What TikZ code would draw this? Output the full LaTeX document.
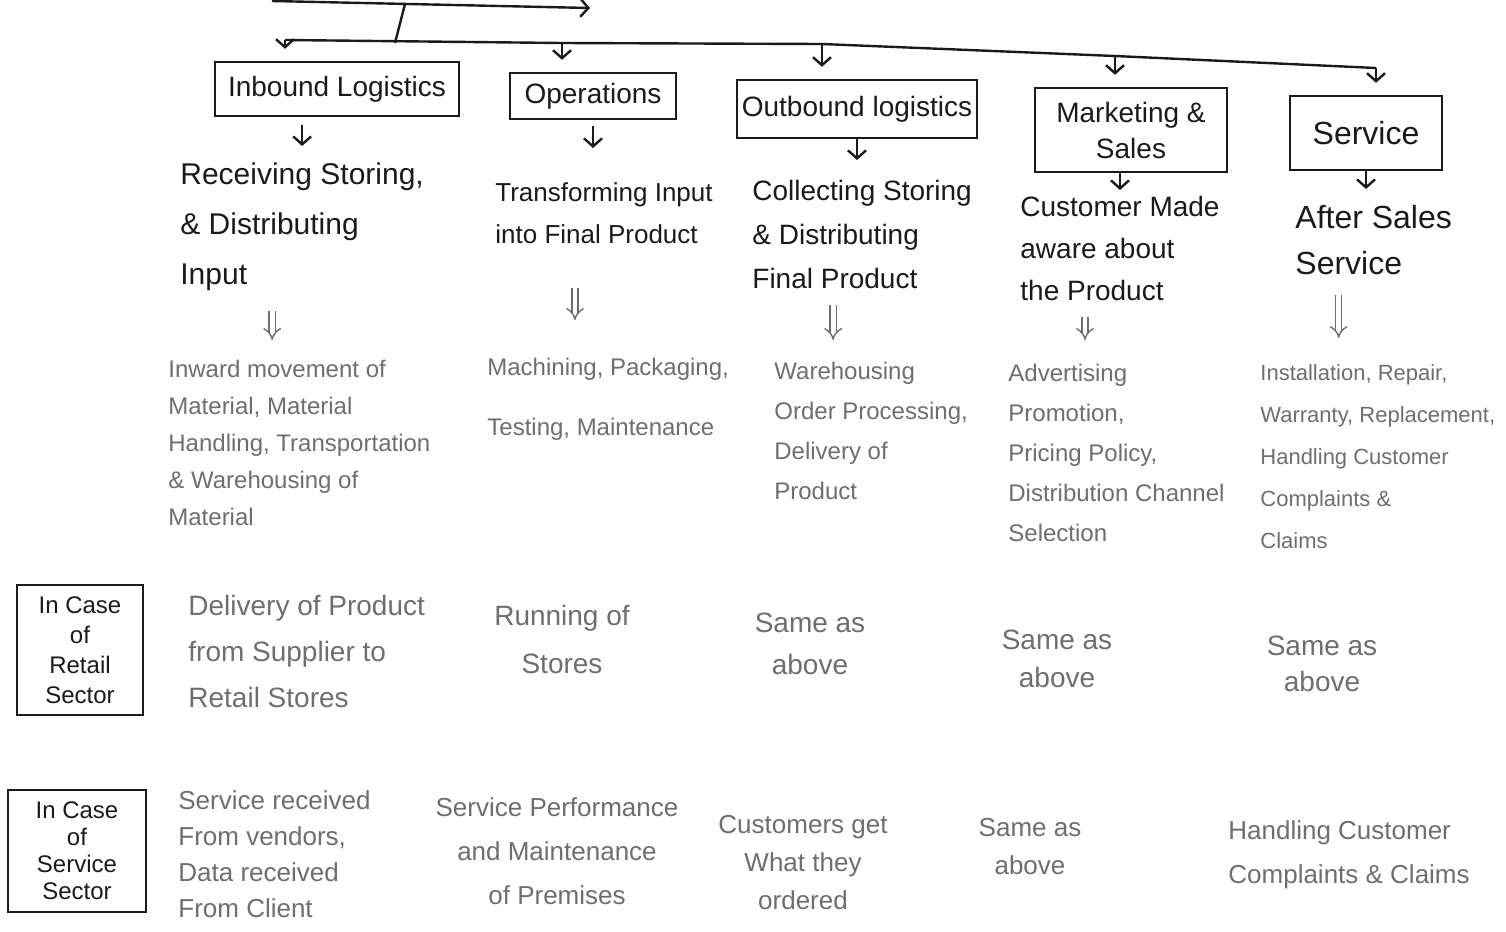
\documentclass[tikz,border=0pt]{standalone}
\usepackage{fontspec}
\setmainfont{Liberation Sans}
\usetikzlibrary{arrows.meta}
\definecolor{ink}{HTML}{1A1A1A}
\definecolor{pencil}{HTML}{6E6E6E}
\tikzset{
  head/.style={draw=ink, line width=1.2pt, text=ink, font=\fontsize{14}{17}\selectfont, align=center, inner sep=2pt},
  desc/.style={text=ink, anchor=north west, inner sep=0pt, align=left},
  detail/.style={text=pencil, anchor=north west, inner sep=0pt, align=left},
  detailc/.style={text=pencil, anchor=north, inner sep=0pt, align=center},
  arr/.style={ink, line width=1.2pt, -{Straight Barb[length=4pt,width=9pt]}},
  line/.style={ink, line width=1.2pt},
  dbl/.style={pencil, line width=0.7pt, double, double distance=2.4pt, -{Implies}},
}
\begin{document}
\begin{tikzpicture}[x=0.5pt,y=-0.5pt]
\useasboundingbox (0,0) rectangle (1506,932);

% top connectors
\coordinate (a0) at (272,1);
\coordinate (a1) at (590,8);
\coordinate (v0) at (405,4);
\coordinate (v1) at (395,43);
\coordinate (d1) at (285,40);
\coordinate (d2) at (562,43);
\coordinate (d3) at (822,44);
\coordinate (d4) at (1115,56);
\coordinate (d5) at (1376,68);

% heading boxes
\node[head, minimum width=122pt, minimum height=27pt] (inb) at (337,89) {Inbound Logistics};
\node[head, minimum width=83pt, minimum height=23pt] (ops) at (593,96) {Operations};
\node[head, minimum width=120pt, minimum height=29pt] (out) at (857,109) {Outbound logistics};
\node[head, minimum width=96pt, minimum height=42pt, font=\fontsize{14}{18}\selectfont] (mkt) at (1131,130) {Marketing \&\\Sales};
\node[head, minimum width=76pt, minimum height=37pt, font=\fontsize{16}{19}\selectfont] (svc) at (1366,133) {Service};

% descriptions
\node[desc, font=\fontsize{15}{25}\selectfont] (rec) at (180,162) {Receiving Storing,\\\& Distributing\\Input};
\node[desc, font=\fontsize{13}{21}\selectfont] (tra) at (495,182) {Transforming Input\\into Final Product};
\node[desc, font=\fontsize{14}{22}\selectfont] (col) at (752,180) {Collecting Storing\\\& Distributing\\Final Product};
\node[desc, font=\fontsize{14}{21}\selectfont] (cus) at (1020,196) {Customer Made\\aware about\\the Product};
\node[desc, font=\fontsize{16}{23}\selectfont] (aft) at (1295,205) {After Sales\\Service};

% details
\node[detail, font=\fontsize{12}{18.5}\selectfont] (inw) at (168,360) {Inward movement of\\Material, Material\\Handling, Transportation\\\& Warehousing of\\Material};
\node[detail, font=\fontsize{12}{30}\selectfont] (mac) at (487,358) {Machining, Packaging,\\Testing, Maintenance};
\node[detail, font=\fontsize{12}{20}\selectfont] (war) at (774,362) {Warehousing\\Order Processing,\\Delivery of\\Product};
\node[detail, font=\fontsize{12}{20}\selectfont] (adv) at (1008,364) {Advertising\\Promotion,\\Pricing Policy,\\Distribution Channel\\Selection};
\node[detail, font=\fontsize{11}{21}\selectfont] (ins) at (1260,364) {Installation, Repair,\\Warranty, Replacement,\\Handling Customer\\Complaints \&\\Claims};

% row labels
\node[head, font=\fontsize{12}{15}\selectfont, minimum width=63pt, minimum height=65pt] (ret) at (80,650) {In Case\\of\\Retail\\Sector};
\node[head, font=\fontsize{12}{13.5}\selectfont, minimum width=69pt, minimum height=61pt] (ssec) at (77,851) {In Case\\of\\Service\\Sector};

% retail row
\node[detail, font=\fontsize{14}{23}\selectfont] (r1) at (188,595) {Delivery of Product\\from Supplier to\\Retail Stores};
\node[detailc, font=\fontsize{14}{24}\selectfont] (r2) at (562,605) {Running of\\Stores};
\node[detailc, font=\fontsize{14}{21}\selectfont] (r3) at (810,613) {Same as\\above};
\node[detailc, font=\fontsize{14}{19}\selectfont] (r4) at (1057,630) {Same as\\above};
\node[detailc, font=\fontsize{14}{18}\selectfont] (r5) at (1322,636) {Same as\\above};

% service row
\node[detail, font=\fontsize{13}{18}\selectfont] (s1) at (178,790) {Service received\\From vendors,\\Data received\\From Client};
\node[detailc, font=\fontsize{13}{22}\selectfont] (s2) at (557,797) {Service Performance\\and Maintenance\\of Premises};
\node[detailc, font=\fontsize{13}{19}\selectfont] (s3) at (803,815) {Customers get\\What they\\ordered};
\node[detailc, font=\fontsize{13}{19}\selectfont] (s4) at (1030,818) {Same as\\above};
\node[detail, font=\fontsize{13}{22}\selectfont] (s5) at (1228,820) {Handling Customer\\Complaints \& Claims};

% top lines
\draw[arr] (a0) -- (a1);
\draw[line] (v0) -- (v1);
\draw[line] (d1) -- (d2) -- (d3) -- (d4) -- (d5);
\draw[arr, shorten >=6pt] (d1) -- (d1 |- inb.north);
\draw[arr, shorten >=6pt] (d2) -- (d2 |- ops.north);
\draw[arr, shorten >=6pt] (d3) -- (d3 |- out.north);
\draw[arr, shorten >=6pt] (d4) -- (d4 |- mkt.north);
\draw[arr, shorten >=6pt] (d5) -- (d5 |- svc.north);

% box to description
\draw[arr, shorten <=4pt, shorten >=8pt] (inb.south -| rec.north) -- (rec.north);
\draw[arr, shorten <=3pt, shorten >=17pt] (ops.south) -- (ops.south |- tra.north);
\draw[arr, shorten >=10pt] (out.south) -- (out.south |- col.north);
\draw[arr, shorten >=3pt] (mkt.south -| cus.north) -- (cus.north);
\draw[arr, shorten >=8pt] (svc.south) -- (svc.south |- aft.north);

% description to details
\coordinate (e1) at ([xshift=-15pt]rec.south);
\coordinate (e2) at ([xshift=-14.5pt]tra.south);
\coordinate (e3) at ([xshift=-14.5pt]col.south);
\coordinate (e4) at ([xshift=-17.5pt]cus.south);
\coordinate (e5) at ([xshift=-17.5pt]aft.south);
\draw[dbl, shorten <=10pt, shorten >=10pt] (e1) -- (e1 |- inw.north);
\draw[dbl, shorten <=22pt, shorten >=19pt] (e2) -- (e2 |- mac.north);
\draw[dbl, shorten <=8pt, shorten >=11pt] (e3) -- (e3 |- war.north);
\draw[dbl, shorten <=8pt, shorten >=12pt] (e4) -- (e4 |- adv.north);
\draw[dbl, shorten <=10pt, shorten >=13pt] (e5) -- (e5 |- ins.north);
\end{tikzpicture}
\end{document}
